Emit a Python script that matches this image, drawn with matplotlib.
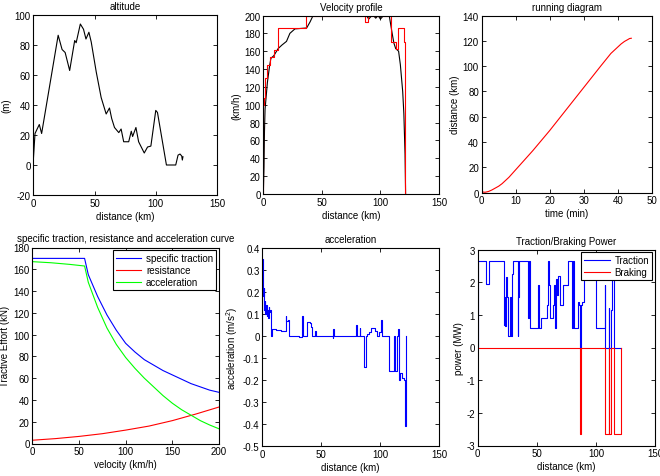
import matplotlib
matplotlib.use("Agg")
import matplotlib.pyplot as plt
import numpy as np

plt.rcParams['font.family'] = ['Liberation Sans', 'DejaVu Sans']
plt.rcParams['font.size'] = 7
plt.rcParams['mathtext.fontset'] = 'custom'
plt.rcParams['mathtext.rm'] = 'Liberation Sans'

# ---------------- data ----------------
alt_d = [0, 1.4, 4.9, 6.8, 20.3, 23.5, 26, 29.7, 33.8, 35, 38.4, 41, 43, 45.4, 47.3, 51.4, 55.4,
         59.5, 62.2, 64, 66.3, 69.8, 71.7, 73.8, 77.9, 80, 81.1, 83.8, 86, 90.6, 93.3, 96, 100,
         101.4, 108.7, 116.3, 118.2, 119.8, 121.2, 121.7, 122.2]
alt_h = [3, 21, 27, 21, 86.5, 77, 75, 63, 83, 81.5, 94, 90.5, 84, 88.5, 82, 62, 45,
         34, 38, 31, 25, 21.6, 24, 15.5, 15.5, 22.5, 19, 25, 15.5, 8, 12, 12.6, 36.4,
         35, 0, 0, 6.6, 7.3, 6, 3.3, 5.5]

vel_d = [0, 0.6, 1.0, 1.5, 2.5, 3.5, 5.4, 6.5, 9, 12.7, 16, 19.8, 22.7, 27, 37, 40, 42.5, 50,
         88, 90, 92, 94, 96, 98, 100, 102, 104, 107.5, 110, 111.5, 113, 115.5, 117, 119, 120,
         121, 121.5]
vel_v = [0, 30, 70, 95, 110, 125, 144, 152, 155, 163, 167, 171, 180, 185, 186, 193, 200, 200,
         200, 196, 199, 200, 197, 200, 196, 199, 200, 200, 180, 169, 163, 160, 145, 115, 90,
         45, 0]
lim_d = [0, 0, 0.6, 1.7, 3.4, 5.4, 9.0, 12.7, 36.8, 87.0, 89.8, 109.0, 113.3, 115.0, 120.4, 121.2]
lim_v = [0, 100, 108, 130, 145, 153, 161, 186, 200, 193, 200, 170, 162, 186, 170, 0]

run_t = [0, 0.5, 1, 2, 3, 4, 5, 6, 8, 10, 12, 15, 20, 25, 30, 35, 38, 40, 41, 42, 43, 43.5, 44]
run_s = [0.8, 0.3, 0.2, 0.8, 2, 3.5, 5, 7, 12, 18, 24, 33, 49, 66, 83, 100, 110, 115, 117.5,
         119.5, 121, 121.8, 122]

eff_v = [0, 56, 60, 70, 80, 90, 100, 110, 120, 130, 140, 150, 160, 170, 180, 190, 200]
eff_trac = [170, 170, 155, 135, 118, 104, 92, 84, 77, 72, 67, 63, 59, 55, 52, 49, 47]
res_v = [0, 25, 50, 75, 100, 125, 150, 175, 200]
res_f = [3, 4.5, 6.5, 9, 12.3, 16, 21, 27, 33.5]
acc_v = [0, 20, 40, 56, 60, 70, 80, 90, 100, 110, 120, 130, 140, 150, 160, 170, 180, 190, 200]
acc_f = [167, 166, 164.5, 163, 148, 125, 106, 91, 79, 69, 60, 52, 44, 37, 31, 26, 21, 17, 13.5]

a_d = [0, 0, 0.4, 0.8, 1.3, 1.8, 2.2, 2.7, 3.2, 3.7, 4.2, 4.8, 5.3, 5.8, 6.4, 7.0, 7.8, 8.5, 12,
       16, 19.8, 20.5, 21.5, 22.8, 31.5, 33.8, 34.3, 37.8, 40.5, 41.3, 42.5, 44.5, 45.2, 60.0,
       60.4, 60.8, 79.5, 80.0, 82.6, 83.0, 86.5, 88.0, 89.0, 91.0, 92.5, 95.5, 97.0, 99.0,
       100.5, 101.5, 107.6, 111.8, 112.6, 114.6, 115.2, 116.2, 116.8, 118.3, 118.8, 120.5,
       121.1, 122.0]
a_v = [0, 0.35, 0.25, 0.18, 0.22, 0.12, 0.16, 0.1, 0.14, 0.09, 0.12, 0.08, 0.13, 0.11, 0.12,
       0.1, 0, 0.03, 0.027, 0.023, 0.09, 0.07, 0.075, 0, -0.005, 0.09, 0, 0.065, 0.06, 0.04,
       0, 0.025, 0, -0.01, 0.03, 0, 0.05, 0, 0.035, 0, -0.14, 0, 0.01, 0.02, 0.035, 0.025, 0,
       0.02, 0.075, 0, -0.16, 0, -0.16, 0, 0.03, -0.2, -0.17, -0.18, -0.19, -0.2, -0.41, 0]

p_d = [0, 0, 7, 9.5, 22.4, 23, 23.5, 24.2, 24.8, 25.5, 27.5, 28.2, 29, 30, 33.8, 34.4, 35,
       42.5, 43, 44, 44.5, 51, 51.5, 53.8, 58.5, 59.5, 60.5, 61.5, 63.5, 64.5, 65.5, 66, 67,
       68, 69.5, 70, 72, 76.5, 79.5, 80.5, 81.5, 84.5, 85.5, 86.8, 87.3, 88.5, 89.6, 100,
       107.6, 107.9, 110.7, 111.5, 112.7, 113.3, 115.3, 121.2]
p_trac = [0, 2.65, 1.95, 2.65, 0.7, 1.55, 0.65, 2.15, 1.55, 0.35, 1.55, 0.35, 2.25, 2.65,
          0.35, 1.55, 2.65, 0.9, 2.65, 1.9, 0.6, 1.9, 0.6, 0.9, 1.3, 2.65, 1.9, 0.9, 1.3, 1.9,
          0.6, 2.1, 1.6, 2.2, 2.0, 1.3, 1.9, 2.65, 0.6, 2.65, 0.6, 1.4, 1.3, 0, 1.3, 1.4, 2.65,
          0.6, 1.9, 0, 1.2, 0, 1.15, 2.1, 0, 0]
b_d = [0, 86.8, 87.3, 107.9, 110.7, 111.5, 112.7, 115.3, 121.2]
b_p = [0, -2.65, 0, -2.65, 0, -2.65, 0, -2.65, 0]

# ---------------- figure ----------------
W, H = 660, 477
fig = plt.figure(figsize=(W / 100, H / 100), dpi=100)


def mk(l, t, r, b):
    return fig.add_axes([l / W, 1 - b / H, (r - l) / W, (b - t) / H])


def style(ax):
    ax.tick_params(direction='in', length=3, width=0.6, top=True, right=True, labelsize=7, pad=2)
    for s in ax.spines.values():
        s.set_linewidth(0.8)


def yfmt(ax, ticks):
    ax.set_yticks(ticks)
    ax.set_yticklabels(['%g' % t for t in ticks])


def legend(ax):
    leg = ax.legend(loc='upper right', fontsize=7, fancybox=False, edgecolor='black',
                    framealpha=1, borderaxespad=0.3, handlelength=2.6, borderpad=0.3,
                    labelspacing=0.2, handletextpad=0.5)
    leg.get_frame().set_linewidth(0.8)


lw = 0.8

ax1 = mk(33.3, 16, 217, 196)
ax1.plot(alt_d, alt_h, color='black', lw=lw)
ax1.set_xlim(0, 150); ax1.set_ylim(-20, 100)
ax1.set_xticks([0, 50, 100, 150]); yfmt(ax1, [-20, 0, 20, 40, 60, 80, 100])
ax1.set_title('altitude', fontsize=7, pad=4)
ax1.set_xlabel('distance (km)', labelpad=2); ax1.set_ylabel('(m)', labelpad=2)
style(ax1)

ax2 = mk(263.3, 16.5, 439, 195)
ax2.plot(vel_d, vel_v, color='black', lw=lw)
ax2.step(lim_d, lim_v, where='post', color='red', lw=lw)
ax2.set_xlim(0, 150); ax2.set_ylim(0, 200)
ax2.set_xticks([0, 50, 100, 150]); yfmt(ax2, list(range(0, 201, 20)))
ax2.set_title('Velocity profile', fontsize=7, pad=4)
ax2.set_xlabel('distance (km)', labelpad=2); ax2.set_ylabel('(km/h)', labelpad=2)
style(ax2)

ax3 = mk(481.7, 16.5, 651.7, 193.5)
ax3.plot(run_t, run_s, color='red', lw=lw)
ax3.set_xlim(0, 50); ax3.set_ylim(0, 140)
ax3.set_xticks(list(range(0, 51, 10))); yfmt(ax3, list(range(0, 141, 20)))
ax3.set_title('running diagram', fontsize=7, pad=4)
ax3.set_xlabel('time (min)', labelpad=2); ax3.set_ylabel('distance (km)', labelpad=2)
style(ax3)

ax4 = mk(32.3, 248.5, 219, 444.5)
ax4.plot(eff_v, eff_trac, color='blue', lw=lw, label='specific traction')
ax4.plot(res_v, res_f, color='red', lw=lw, label='resistance')
ax4.plot(acc_v, acc_f, color='#00ff00', lw=lw, label='acceleration')
ax4.set_xlim(0, 200); ax4.set_ylim(0, 180)
ax4.set_xticks([0, 50, 100, 150, 200]); yfmt(ax4, list(range(0, 181, 20)))
ax4.set_title('specific traction, resistance and acceleration curve', fontsize=7, pad=5)
ax4.set_xlabel('velocity (km/h)', labelpad=2); ax4.set_ylabel('Tractive Effort (kN)', labelpad=2)
legend(ax4)
style(ax4)

ax5 = mk(262.3, 249, 439, 447)
ax5.step(a_d, a_v, where='post', color='blue', lw=lw)
ax5.set_xlim(0, 150); ax5.set_ylim(-0.5, 0.4)
ax5.set_xticks([0, 50, 100, 150])
yfmt(ax5, [-0.5, -0.4, -0.3, -0.2, -0.1, 0, 0.1, 0.2, 0.3, 0.4])
ax5.set_title('acceleration', fontsize=7, pad=4)
ax5.set_xlabel('distance (km)', labelpad=2); ax5.set_ylabel('acceleration (m/s$^2$)', labelpad=2)
style(ax5)

ax6 = mk(477.7, 250.5, 655, 446.5)
ax6.step(p_d, p_trac, where='post', color='blue', lw=lw, label='Traction')
ax6.step(b_d, b_p, where='post', color='red', lw=lw, label='Braking')
ax6.set_xlim(0, 150); ax6.set_ylim(-3, 3)
ax6.set_xticks([0, 50, 100, 150]); yfmt(ax6, [-3, -2, -1, 0, 1, 2, 3])
ax6.set_title('Traction/Braking Power', fontsize=7, pad=4)
ax6.set_xlabel('distance (km)', labelpad=2); ax6.set_ylabel('power (MW)', labelpad=2)
legend(ax6)
style(ax6)

fig.savefig('out.png', dpi=100)
